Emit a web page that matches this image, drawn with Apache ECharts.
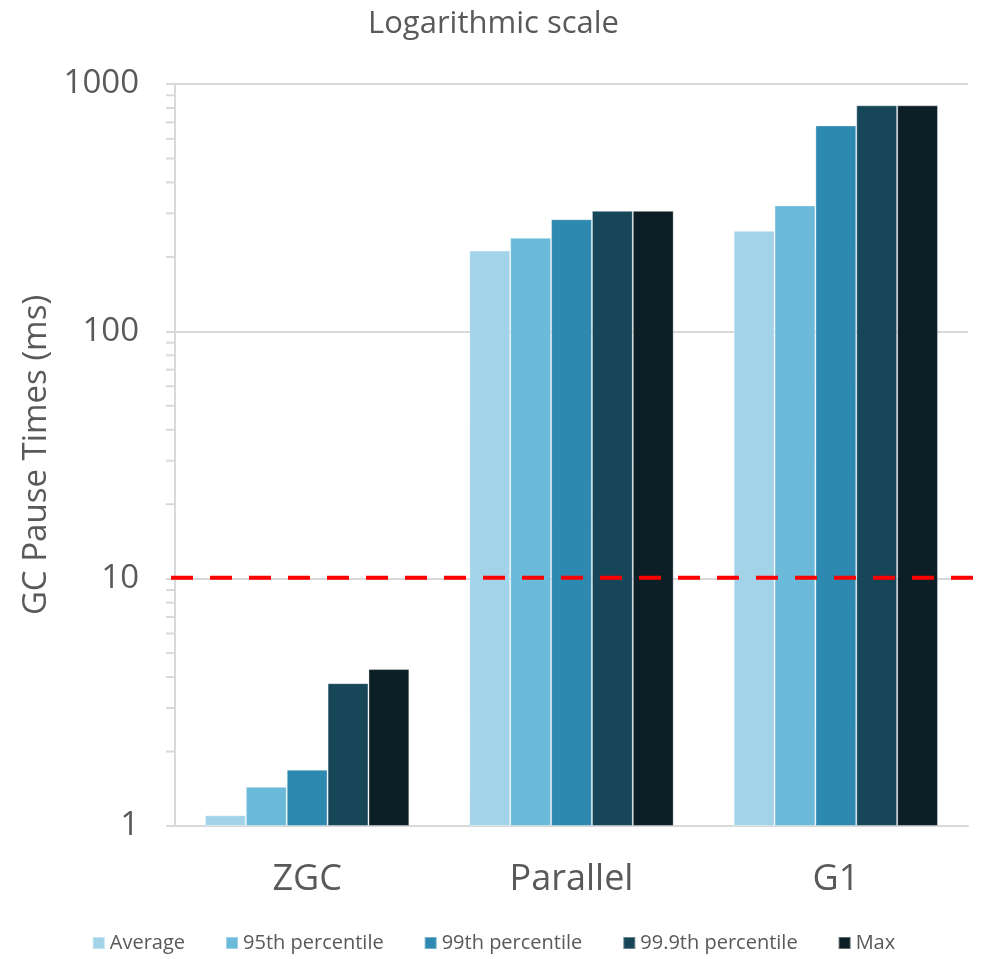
<!DOCTYPE html>
<html>
<head>
<meta charset="utf-8">
<script src="https://cdn.jsdelivr.net/npm/echarts@6/dist/echarts.min.js"></script>
<style>html,body{margin:0;padding:0;background:#fff}#c{width:987px;height:959px}</style>
</head>
<body>
<div id="c"></div>
<script>
const categories = ['ZGC', 'Parallel', 'G1'];
const seriesNames = ['Average', '95th percentile', '99th percentile', '99.9th percentile', 'Max'];
const average = [1.105, 212, 255];
const p95 = [1.44, 239, 323];
const p99 = [1.69, 284, 680];
const p999 = [3.78, 307, 820];
const maxVals = [4.31, 307, 820];
const yTicks = [1, 10, 100, 1000];
const minorTickValues = [2,3,4,5,6,7,8,9,20,30,40,50,60,70,80,90,200,300,400,500,600,700,800,900];
const thresholdValue = 10;

const colors = ['#a3d3e8', '#6bbad9', '#2e89b0', '#174658', '#0c1e26'];
const FONT = '"Open Sans", sans-serif';
const allData = [average, p95, p99, p999, maxVals];

const chart = echarts.init(document.getElementById('c'), null, {renderer: 'canvas'});
const option = {
  animation: false,
  backgroundColor: '#ffffff',
  color: colors,
  title: {
    text: 'Logarithmic scale', left: 'center', top: 4,
    textStyle: {fontFamily: FONT, fontSize: 31, fontWeight: 'normal', color: '#595959'}
  },
  legend: {
    bottom: 1, left: 'center', itemWidth: 12, itemHeight: 12, itemGap: 40,
    icon: 'rect',
    textStyle: {fontFamily: FONT, fontSize: 20, color: '#595959', padding: [0,0,0,0]},
    data: seriesNames
  },
  grid: {left: 175, right: 19, top: 84, bottom: 133},
  xAxis: {
    type: 'category', data: categories,
    axisLine: {lineStyle: {color: '#d9d9d9', width: 2}},
    axisTick: {show: false},
    axisLabel: {fontFamily: FONT, fontSize: 36, color: '#595959', margin: 36}
  },
  yAxis: {
    type: 'log', logBase: 10, min: 1, max: 1000,
    name: 'GC Pause Times (ms)', nameLocation: 'middle', nameGap: 111, nameRotate: 90,
    nameTextStyle: {fontFamily: FONT, fontSize: 33, color: '#595959'},
    axisLine: {show: true, lineStyle: {color: '#d9d9d9', width: 2}},
    axisTick: {show: true, inside: false, length: 9, lineStyle: {color: '#d9d9d9', width: 2}},
    axisLabel: {fontFamily: FONT, fontSize: 33, color: '#595959', margin: 36,
      formatter: v => String(Math.round(v))},
    splitLine: {show: true, lineStyle: {color: '#d9d9d9', width: 2}},
    minorTick: {show: false}
  },
  series: seriesNames.map((n, i) => ({
    name: n, type: 'bar', data: allData[i],
    barGap: '0%', barCategoryGap: '22.7%',
    itemStyle: {color: colors[i], borderColor: 'rgba(255,255,255,0.35)', borderWidth: 1}
  }))
};
chart.setOption(option);

function addGraphics() {
  const grid = chart.getModel().getComponent('grid', 0).coordinateSystem.getRect();
  const axisX = grid.x;
  const elems = minorTickValues.map(v => {
    const y = chart.convertToPixel({yAxisIndex: 0}, v);
    return {type: 'line', shape: {x1: axisX - 9, y1: y, x2: axisX, y2: y},
            style: {stroke: '#d9d9d9', lineWidth: 2}, silent: true};
  });
  const yr = chart.convertToPixel({yAxisIndex: 0}, thresholdValue) - 1;
  elems.push({type: 'line', z: 100,
    shape: {x1: axisX - 4, y1: yr, x2: 987, y2: yr},
    style: {stroke: '#ff0000', lineWidth: 4, lineDash: [22, 17]}, silent: true});
  chart.setOption({graphic: elems});
}
addGraphics();
</script>
</body>
</html>
